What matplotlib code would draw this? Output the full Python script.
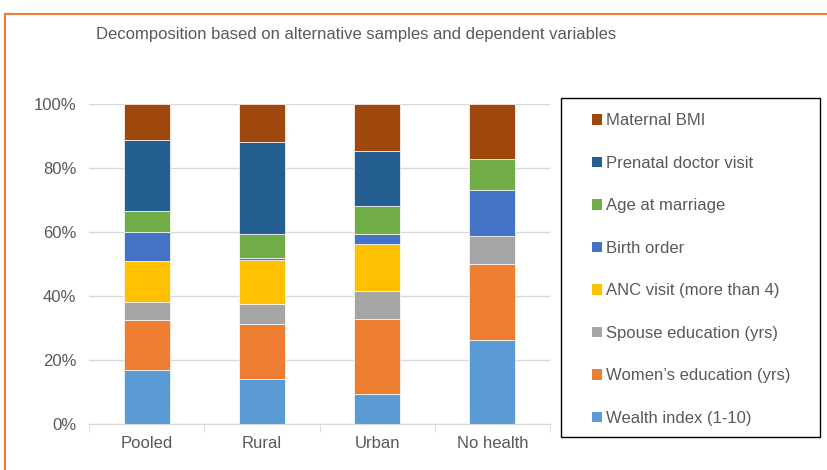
import matplotlib.pyplot as plt
from matplotlib.patches import Rectangle, Patch
import numpy as np

plt.rcParams['font.family'] = ['Liberation Sans', 'DejaVu Sans']

# --- data (shares, %) ---
samples = ['Pooled', 'Rural', 'Urban', 'No health']
factors = ['Wealth index (1-10)', 'Women\u2019s education (yrs)', 'Spouse education (yrs)',
           'ANC visit (more than 4)', 'Birth order', 'Age at marriage',
           'Prenatal doctor visit', 'Maternal BMI']
wealth = [17.0, 14.0, 9.4, 26.3]
women_edu = [15.5, 17.2, 23.4, 23.8]
spouse_edu = [5.6, 6.2, 8.7, 8.6]
anc_visit = [12.7, 13.7, 14.7, 0.0]
birth_order = [9.2, 0.9, 3.3, 14.5]
age_marriage = [6.5, 7.3, 8.6, 9.7]
prenatal = [22.4, 28.9, 17.3, 0.0]
bmi = [11.1, 11.8, 14.6, 17.1]
colors = ['#5B9BD5', '#ED7D31', '#A5A5A5', '#FFC000', '#4472C4', '#70AD47', '#255E91', '#9E480E']

series = [wealth, women_edu, spouse_edu, anc_visit, birth_order, age_marriage, prenatal, bmi]
txt = '#595959'

fig = plt.figure(figsize=(8.28, 4.70), dpi=100)
ax = fig.add_axes([89/828, 1 - 424/470, 461/828, 320/470])

x = np.arange(len(samples))
bottom = np.zeros(len(samples))
for vals, c in zip(series, colors):
    ax.bar(x, vals, 0.4, bottom=bottom, color=c, edgecolor='white', linewidth=0.5, zorder=3)
    bottom += np.array(vals)

ax.set_xlim(-0.5, 3.5)
ax.set_ylim(0, 100)
ax.set_yticks(range(0, 101, 20))
ax.set_yticklabels([f'{v}%' for v in range(0, 101, 20)])
ax.set_xticks(x)
ax.set_xticklabels(samples)
ax.set_xticks(np.arange(-0.5, 4, 1), minor=True)
ax.tick_params(axis='x', which='major', length=0, pad=9, labelsize=12, labelcolor=txt)
ax.tick_params(axis='x', which='minor', length=6, color='#d9d9d9')
ax.tick_params(axis='y', length=0, pad=9, labelsize=12, labelcolor=txt)
ax.grid(axis='y', color='#d9d9d9', linewidth=1, zorder=0)
for s in ['top', 'right', 'left']:
    ax.spines[s].set_visible(False)
ax.spines['bottom'].set_color('#d9d9d9')
ax.spines['bottom'].set_zorder(4)

fig.text(96/828, 1 - 35/470, 'Decomposition based on alternative samples and dependent variables',
         fontsize=12, color=txt, va='center', ha='left')

# legend box
fig.patches.append(Rectangle((561/828, 1 - 437/470), 259/828, 339/470, transform=fig.transFigure,
                             fill=False, edgecolor='black', linewidth=1))
handles = [Patch(facecolor=c, label=l) for c, l in zip(colors, factors)][::-1]
fig.legend(handles=handles, loc='upper left', bbox_to_anchor=(584/828, 1 - 105/470),
           frameon=False, fontsize=12, labelcolor=txt, handlelength=0.6, handleheight=0.6,
           handletextpad=0.25, labelspacing=1.65, borderpad=0)

# orange outer frame
fig.patches.append(Rectangle((5/828, -0.05), 1.1, 1 - 14/470 + 0.05, transform=fig.transFigure,
                             fill=False, edgecolor='#ED7D31', linewidth=1.5))

fig.savefig('out.png', dpi=100)
